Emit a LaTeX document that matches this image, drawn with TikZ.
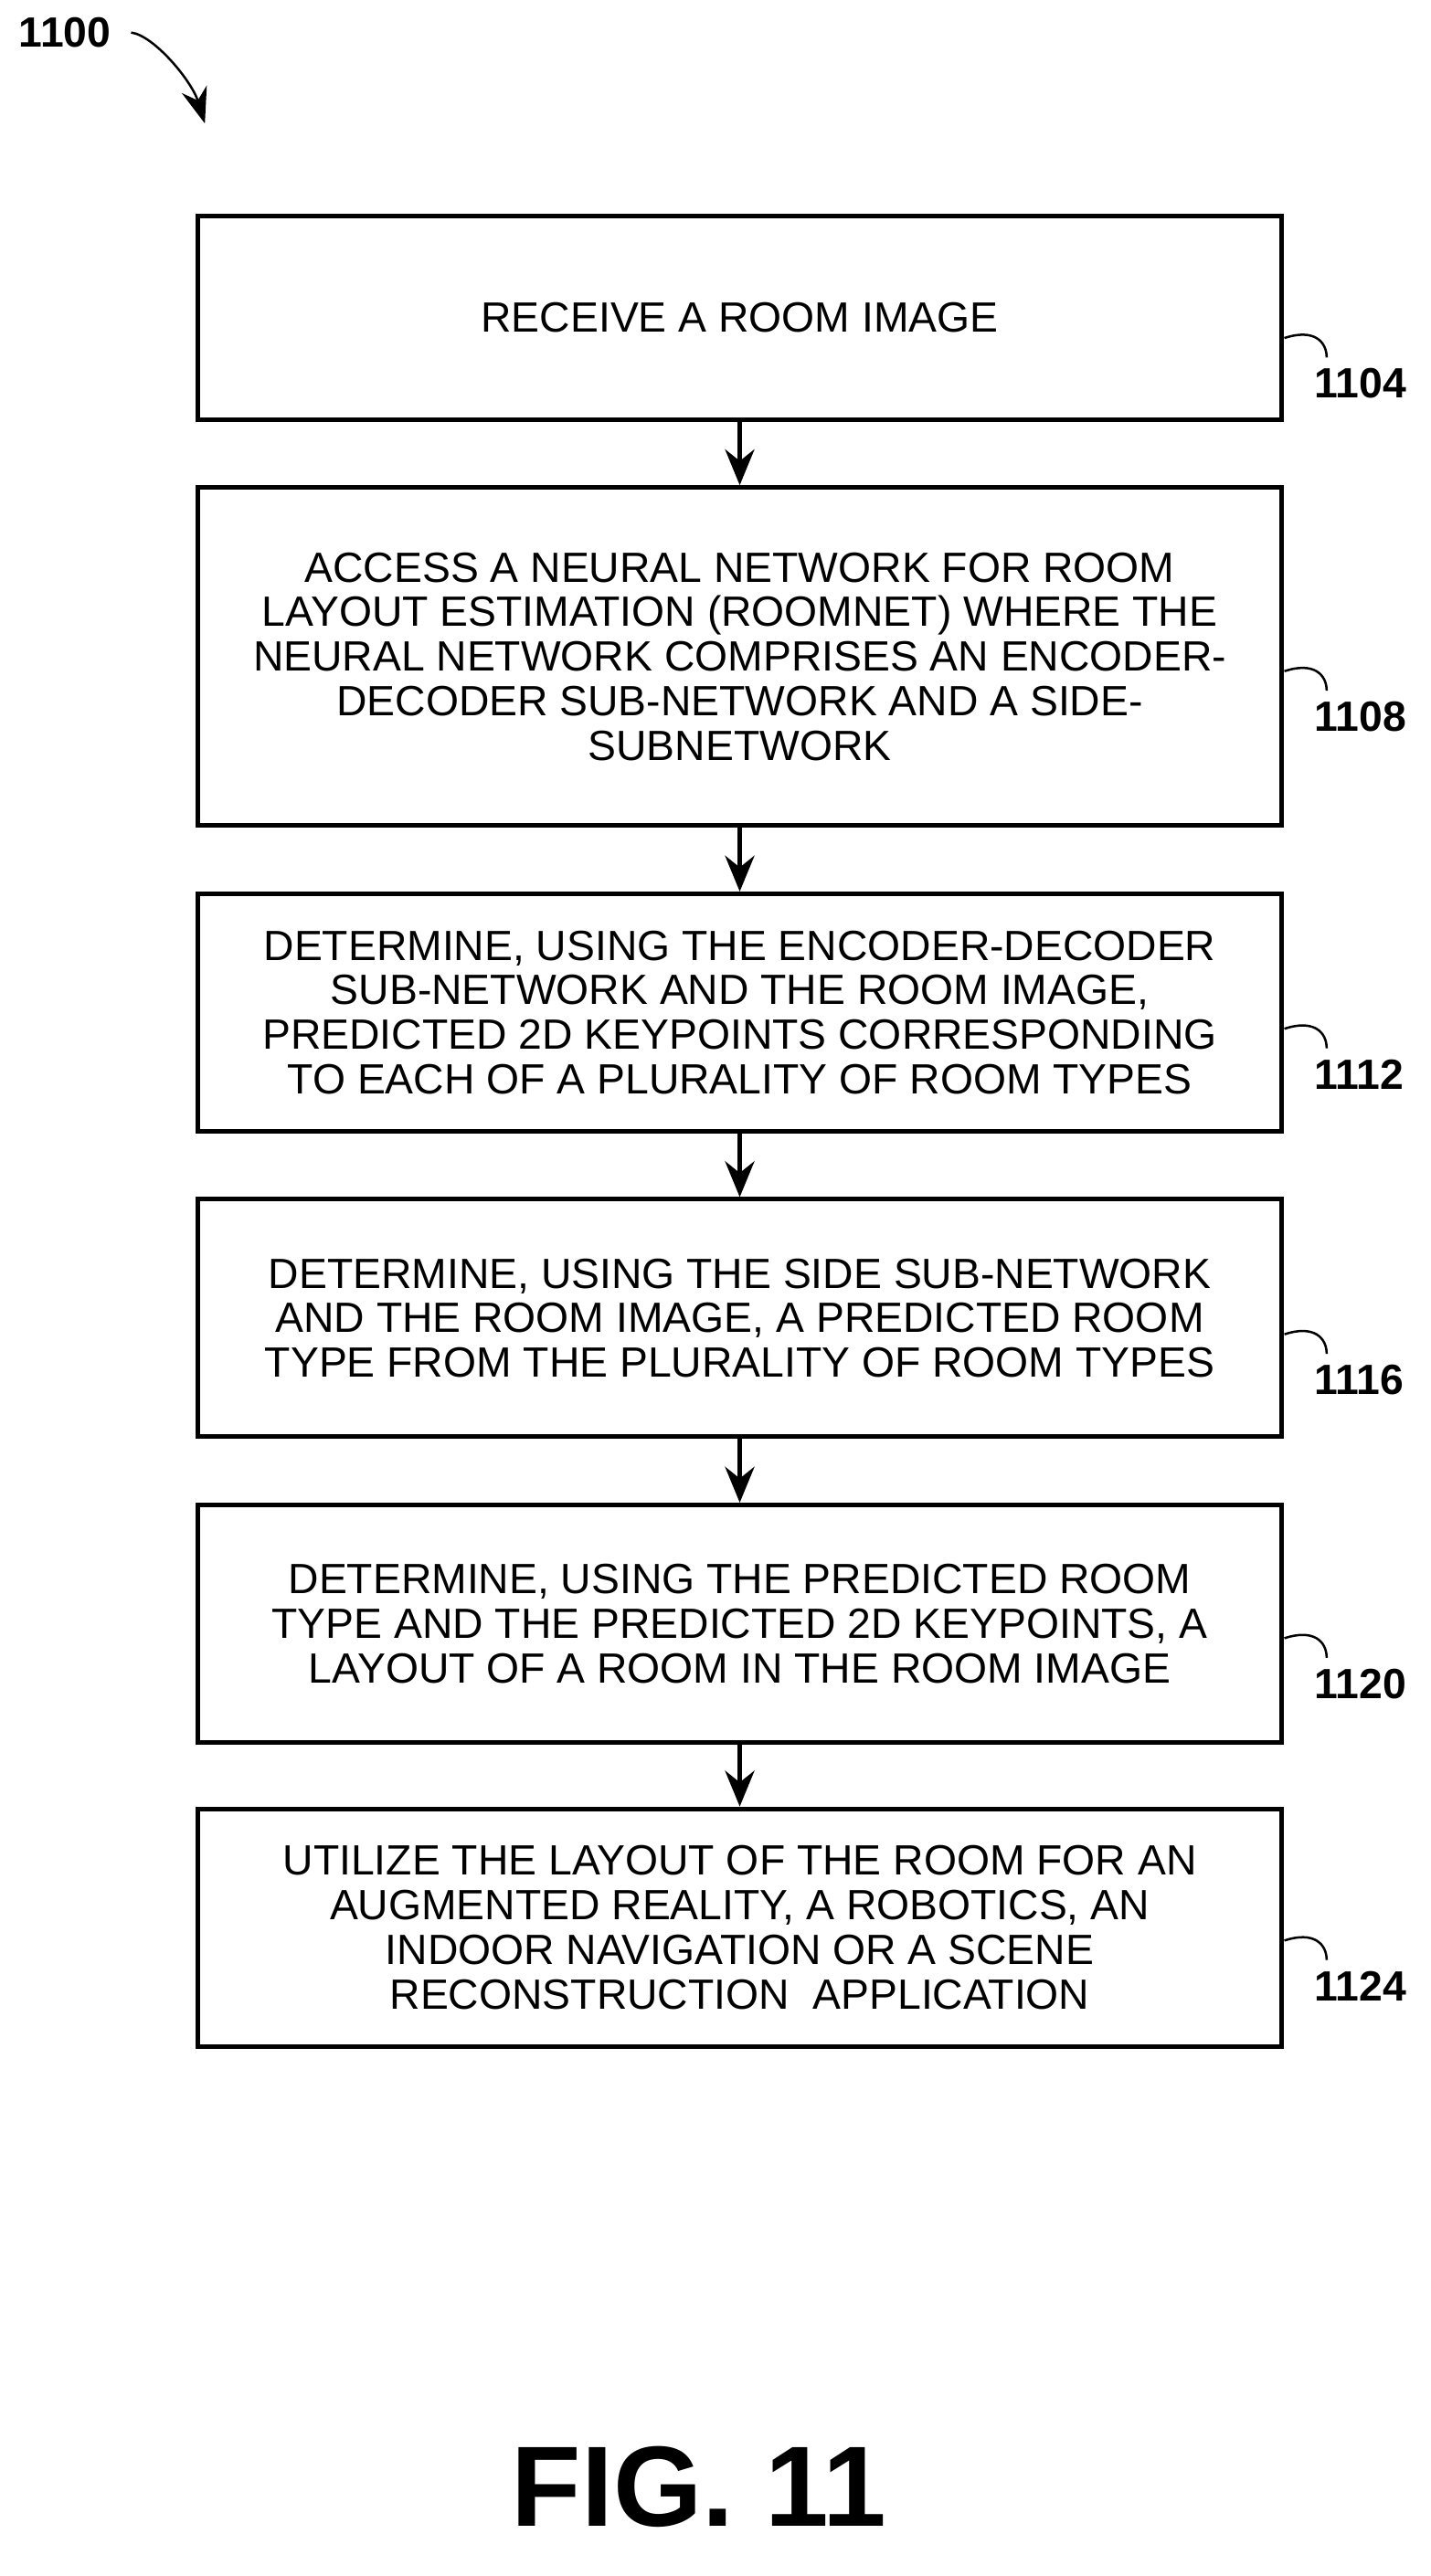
\documentclass[tikz,border=0pt]{standalone}
\usepackage{fontspec}
\setmainfont{Liberation Sans}
\usetikzlibrary{arrows.meta,positioning}
\tikzset{
  flowbox/.style={draw, thick, minimum width=6.66cm, align=center, inner sep=0pt,
    font=\fontsize{7.4}{7.8}\selectfont},
  ref/.style={font=\bfseries\fontsize{7.4}{8}\selectfont, anchor=west},
  flow/.style={thick, -{Stealth[length=2.2mm,width=1.8mm]}},
  tick/.style={thin}
}
\begin{document}
\begin{tikzpicture}[x=0.01cm,y=-0.01cm]
\useasboundingbox (0,0) rectangle (880,1585);
% steps
\node[flowbox, minimum height=1.25cm] (s1) at (455,195.5) {RECEIVE A ROOM IMAGE};
\node[flowbox, minimum height=2.08cm] (s2) at (455,404) {ACCESS A NEURAL NETWORK FOR ROOM\\LAYOUT ESTIMATION (ROOMNET) WHERE THE\\NEURAL NETWORK COMPRISES AN ENCODER-\\DECODER SUB-NETWORK AND A SIDE-\\SUBNETWORK};
\node[flowbox, minimum height=1.46cm] (s3) at (455,623) {DETERMINE, USING THE ENCODER-DECODER\\SUB-NETWORK AND THE ROOM IMAGE,\\PREDICTED 2D KEYPOINTS CORRESPONDING\\TO EACH OF A PLURALITY OF ROOM TYPES};
\node[flowbox, minimum height=1.46cm] (s4) at (455,811) {DETERMINE, USING THE SIDE SUB-NETWORK\\AND THE ROOM IMAGE, A PREDICTED ROOM\\TYPE FROM THE PLURALITY OF ROOM TYPES};
\node[flowbox, minimum height=1.46cm] (s5) at (455,999) {DETERMINE, USING THE PREDICTED ROOM\\TYPE AND THE PREDICTED 2D KEYPOINTS, A\\LAYOUT OF A ROOM IN THE ROOM IMAGE};
\node[flowbox, minimum height=1.46cm] (s6) at (455,1186) {UTILIZE THE LAYOUT OF THE ROOM FOR AN\\AUGMENTED REALITY, A ROBOTICS, AN\\INDOOR NAVIGATION OR A SCENE\\RECONSTRUCTION\ \ APPLICATION};
% connectors
\foreach \a/\b in {s1/s2,s2/s3,s3/s4,s4/s5,s5/s6}
  \draw[flow] (\a) -- (\b);
% reference numerals
\foreach \n/\ly in {1104/236,1108/441,1112/661,1116/849,1120/1036,1124/1222}{
  \node[ref] (r\n) at (796,\ly) {\n};
  \draw[tick] (790,\ly-28) .. controls (808,\ly-34) and (816,\ly-26) .. (816,\ly-16);
}
\node[font=\bfseries\fontsize{7.4}{8}\selectfont] (fig) at (40,20) {1100};
\coordinate (tip) at (126,76);
\draw[thin, -{Stealth[length=2.2mm,width=1.6mm]}] (fig.east) .. controls (95,22) and (118,50) .. (tip);
\node[font=\bfseries\fontsize{20}{22}\selectfont] (cap) at (430,1530) {FIG. 11};
\end{tikzpicture}
\end{document}
